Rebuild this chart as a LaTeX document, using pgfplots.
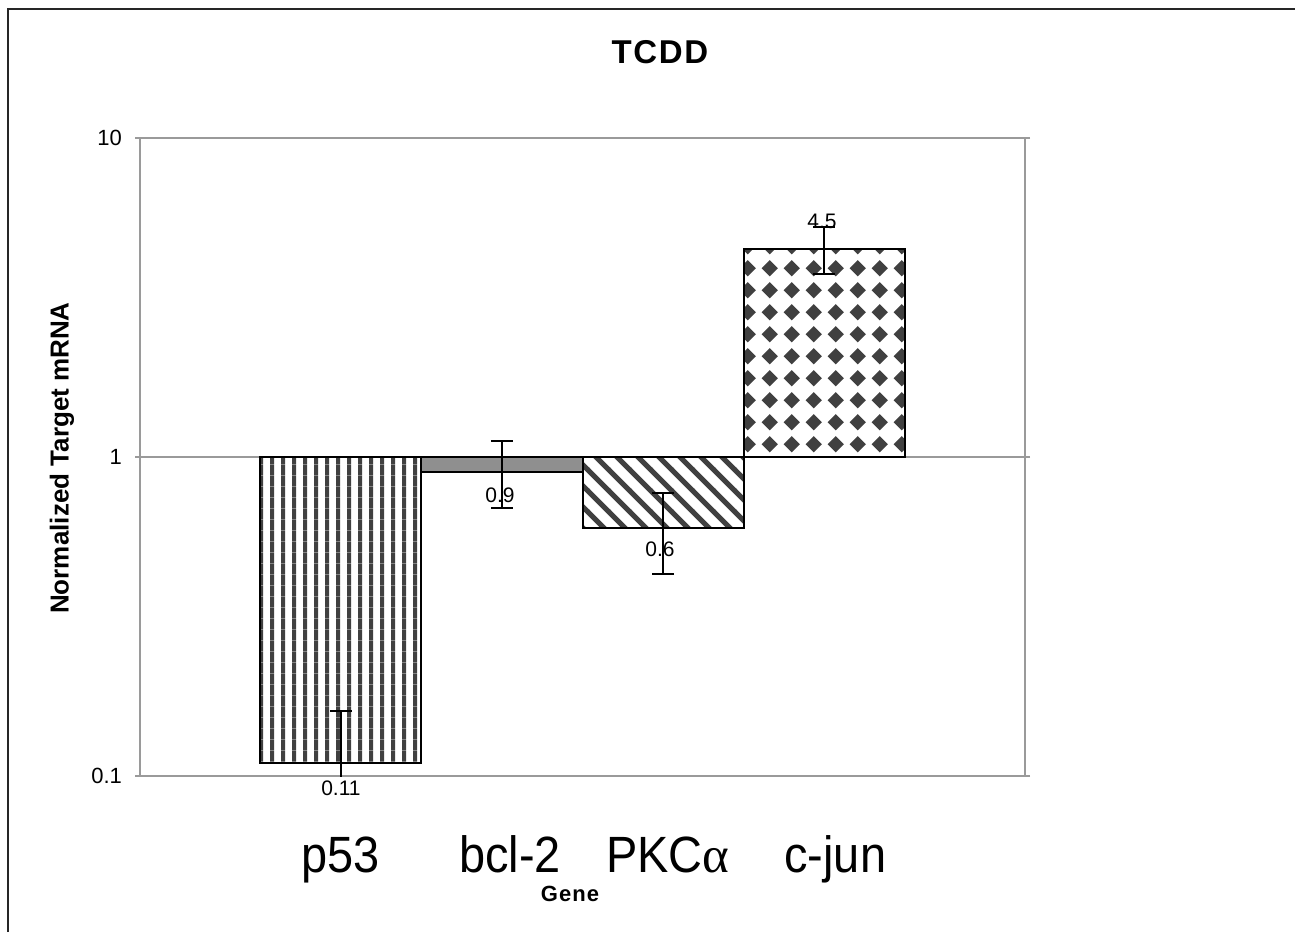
\documentclass[border=0pt]{standalone}
\usepackage{pgfplots}
\pgfplotsset{compat=1.18}
\usepackage{fontspec}
\setmainfont{Liberation Sans}
\usetikzlibrary{patterns}
\newfontfamily\catfont[FakeStretch=0.92]{Liberation Sans}
\newfontfamily\spacedfont[LetterSpace=5]{Liberation Sans}
\newfontfamily\greekfont{Liberation Serif}
\definecolor{darkpat}{HTML}{404040}
\definecolor{barfill}{HTML}{8F8F8F}
\definecolor{axgray}{HTML}{9A9A9A}

\pgfdeclarepatternformonly{vstripes}{\pgfqpoint{0pt}{0pt}}{\pgfqpoint{5.35pt}{5.35pt}}{\pgfqpoint{5.35pt}{5.35pt}}{%
  \pgfpathrectangle{\pgfqpoint{1.6pt}{-0.1pt}}{\pgfqpoint{2pt}{5.55pt}}\pgfusepath{fill}}
\pgfdeclarepatternformonly{dstripes}{\pgfqpoint{-1pt}{-1pt}}{\pgfqpoint{11.5pt}{11.5pt}}{\pgfqpoint{10.5pt}{10.5pt}}{%
  \pgfsetlinewidth{2.5pt}\pgfpathmoveto{\pgfqpoint{-1pt}{11.5pt}}\pgfpathlineto{\pgfqpoint{11.5pt}{-1pt}}\pgfusepath{stroke}}
\pgfdeclarepatternformonly{diamonds}{\pgfqpoint{0pt}{0pt}}{\pgfqpoint{10.85pt}{10.85pt}}{\pgfqpoint{10.85pt}{10.85pt}}{%
  \pgfpathmoveto{\pgfqpoint{5.425pt}{1.3pt}}\pgfpathlineto{\pgfqpoint{9.55pt}{5.425pt}}\pgfpathlineto{\pgfqpoint{5.425pt}{9.55pt}}\pgfpathlineto{\pgfqpoint{1.3pt}{5.425pt}}\pgfpathclose\pgfusepath{fill}}

\begin{document}
\begin{tikzpicture}
\path[use as bounding box] (0,0) rectangle (647.5pt,466pt);
\draw[line width=1pt, black!85] (4pt,0) -- (4pt,461.5pt) -- (647.5pt,461.5pt);
\begin{axis}[
  at={(70pt,78pt)}, anchor=south west,
  scale only axis, width=442.5pt, height=319pt,
  ymode=log, log origin=0,
  ymin=0.1, ymax=10,
  xmin=-0.248, xmax=5.248,
  ybar, bar width=1,
  ytick={0.1,1,10}, yticklabels={\mbox{0.1},\mbox{1},\mbox{10}},
  yminorticks=false,
  xtick={1,2.05,3.03,4.07},
  xticklabels={p53,bcl-2,PKC{\greekfont α},c-jun},
  x tick label style={font=\catfont\fontsize{25.5}{28}\selectfont, anchor=base, yshift=-46pt},
  y tick label style={font=\fontsize{11}{13}\selectfont, xshift=-3pt},
  xtick style={draw=none},
  ytick style={draw=axgray, line width=1pt},
  tick align=outside, major tick length=2.5pt,
  axis line style={draw=axgray, line width=1pt},
  ymajorgrids, grid style={draw=axgray, line width=1pt},
  error bars/error bar style={line width=1pt, black},
  error bars/error mark options={black, line width=1pt, mark size=5.5pt, rotate=90},
]
\addplot[bar shift=0pt, draw=black, line width=1pt, pattern=vstripes, pattern color=darkpat,
  error bars/.cd, y dir=both, y explicit]
  coordinates {(1,0.11) +- (0,0.05)};
\addplot[bar shift=0pt, draw=black, line width=1pt, fill=barfill,
  error bars/.cd, y dir=both, y explicit]
  coordinates {(2,0.9) += (0,0.22) -= (0,0.21)};
\addplot[bar shift=0pt, draw=black, line width=1pt, pattern=dstripes, pattern color=darkpat,
  error bars/.cd, y dir=both, y explicit]
  coordinates {(3,0.6) += (0,0.17) -= (0,0.17)};
\addplot[bar shift=0pt, draw=black, line width=1pt, pattern=diamonds, pattern color=darkpat,
  error bars/.cd, y dir=both, y explicit]
  coordinates {(4,4.5) += (0,0.76) -= (0,0.74)};
% data labels
\addplot[draw=none, mark=none, bar shift=0pt, fill=none, nodes near coords={0.11},
  nodes near coords style={font=\fontsize{10.5}{12}\selectfont, anchor=center, yshift=-12.5pt}]
  coordinates {(1,0.11)};
\addplot[draw=none, mark=none, bar shift=0pt, fill=none, nodes near coords={0.9},
  nodes near coords style={font=\fontsize{10.5}{12}\selectfont, anchor=center, yshift=-12pt, xshift=-1pt}]
  coordinates {(2,0.9)};
\addplot[draw=none, mark=none, bar shift=0pt, fill=none, nodes near coords={0.6},
  nodes near coords style={font=\fontsize{10.5}{12}\selectfont, anchor=center, yshift=-10.5pt, xshift=-1.5pt}]
  coordinates {(3,0.6)};
\addplot[draw=none, mark=none, bar shift=0pt, fill=none, nodes near coords={4.5},
  nodes near coords style={font=\fontsize{10.5}{12}\selectfont, anchor=center, yshift=13.5pt, xshift=-1pt}]
  coordinates {(4,4.5)};
\end{axis}
\node[font=\spacedfont\bfseries\fontsize{16.5}{20}\selectfont] at (330pt,440pt) {TCDD};
\node[font=\bfseries\fontsize{13}{15}\selectfont, rotate=90] at (31pt,237pt) {Normalized Target mRNA};
\node[font=\spacedfont\bfseries\fontsize{11}{13}\selectfont] at (285pt,19pt) {Gene};
\end{tikzpicture}
\end{document}
